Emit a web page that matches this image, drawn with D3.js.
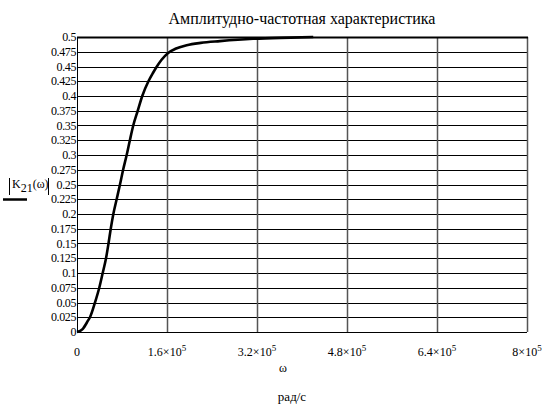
<!DOCTYPE html>
<html><head><meta charset="utf-8">
<script src="https://cdn.jsdelivr.net/npm/d3@7"></script>
<style>
body{margin:0;background:#fff;}
svg{display:block;}
</style></head>
<body>
<svg id="c" width="557" height="408" font-family="'Liberation Serif', 'DejaVu Serif', serif"></svg>
<script>
const title = "Амплитудно-частотная характеристика";
const xLabel = "ω";
const unitLabel = "рад/с";
const omega = [0, 1e4, 2e4, 2.31e4, 3.2e4, 3.96e4, 4.57e4, 5.16e4, 5.6e4, 6.0e4, 6.46e4, 7.05e4, 7.64e4, 8.2e4, 8.83e4, 9.4e4, 1.0e5, 1.08e5, 1.16e5, 1.27e5, 1.35e5, 1.42e5, 1.5e5, 1.62e5, 1.75e5, 1.95e5, 2.2e5, 2.54e5, 3.13e5, 3.8e5, 4.2e5];
const K21 = [0, 0.005, 0.02, 0.025, 0.05, 0.075, 0.1, 0.125, 0.15, 0.175, 0.2, 0.225, 0.25, 0.275, 0.3, 0.325, 0.35, 0.375, 0.4, 0.425, 0.439, 0.45, 0.461, 0.473, 0.48, 0.486, 0.49, 0.493, 0.497, 0.499, 0.5];
const xTicks = [0, 1.6e5, 3.2e5, 4.8e5, 6.4e5, 8e5];
const xTickMant = ["0", "1.6", "3.2", "4.8", "6.4", "8"];
const yTicks = d3.range(0, 21).map(i => i * 0.025);

const W = 557, H = 408;
const m = {l: 77, r: 30, t: 37, b: 76};
const svg = d3.select("#c");
const x = d3.scaleLinear().domain([0, 8e5]).range([m.l, W - m.r]);
const y = d3.scaleLinear().domain([0, 0.5]).range([H - m.b, m.t]);

// horizontal grid
svg.append("g").selectAll("line").data(yTicks).join("line")
  .attr("x1", x(0)).attr("x2", x(8e5))
  .attr("y1", d => Math.round(y(d)) + 0.5).attr("y2", d => Math.round(y(d)) + 0.5)
  .attr("stroke", "#000").attr("stroke-width", 1);
// vertical grid
svg.append("g").selectAll("line").data(xTicks.slice(1)).join("line")
  .attr("x1", d => Math.round(x(d)) + 0.5).attr("x2", d => Math.round(x(d)) + 0.5)
  .attr("y1", y(0.5)).attr("y2", y(0))
  .attr("stroke", "#555").attr("stroke-width", 1.5);
// left axis & top border
svg.append("line").attr("x1", x(0) + 0.5).attr("x2", x(0) + 0.5).attr("y1", y(0.5)).attr("y2", y(0) + 1).attr("stroke", "#000");
svg.append("line").attr("x1", x(0)).attr("x2", x(8e5) + 1).attr("y1", Math.round(y(0.5)) + 0.5).attr("y2", Math.round(y(0.5)) + 0.5).attr("stroke", "#000").attr("stroke-width", 2);

// y tick labels
svg.append("g").selectAll("text").data(yTicks).join("text")
  .attr("x", x(0) - 1).attr("y", d => y(d) + 4)
  .attr("text-anchor", "end").attr("font-size", 12).attr("letter-spacing", -0.4)
  .text(d => d3.format("")(+d.toFixed(3)));

// x tick labels
const xt = svg.append("g").selectAll("text").data(xTicks).join("text")
  .attr("x", d => x(d)).attr("y", 356)
  .attr("text-anchor", "middle").attr("font-size", 12);
xt.each(function(d, i) {
  const t = d3.select(this);
  if (i === 0) { t.text("0"); return; }
  t.append("tspan").text(xTickMant[i] + "×10");
  t.append("tspan").attr("dy", -5).attr("font-size", 9).text("5");
});

// curve
const line = d3.line().x((d, i) => x(omega[i])).y((d, i) => y(K21[i])).curve(d3.curveMonotoneX);
svg.append("path").datum(K21).attr("d", line)
  .attr("fill", "none").attr("stroke", "#000").attr("stroke-width", 2.6).attr("stroke-linejoin", "round");

// title
svg.append("text").attr("x", 302).attr("y", 24).attr("text-anchor", "middle").attr("font-size", 16).text(title);
// x labels
svg.append("text").attr("x", 283).attr("y", 372).attr("text-anchor", "middle").attr("font-size", 12).text(xLabel);
svg.append("text").attr("x", 292).attr("y", 401).attr("text-anchor", "middle").attr("font-size", 13).text(unitLabel);

// y label |K21(ω)|
const yl = svg.append("g");
yl.append("line").attr("x1", 9.5).attr("x2", 9.5).attr("y1", 178).attr("y2", 195).attr("stroke", "#000");
yl.append("line").attr("x1", 48.5).attr("x2", 48.5).attr("y1", 178).attr("y2", 195).attr("stroke", "#000");
const yt = yl.append("text").attr("x", 12).attr("y", 188).attr("font-size", 12);
yt.append("tspan").text("K");
yt.append("tspan").attr("dy", 4).text("21");
yt.append("tspan").attr("dy", -4).text("(ω)");
yl.append("line").attr("x1", 3).attr("x2", 27).attr("y1", 199.5).attr("y2", 199.5).attr("stroke", "#000").attr("stroke-width", 2.5);
</script>
</body></html>
